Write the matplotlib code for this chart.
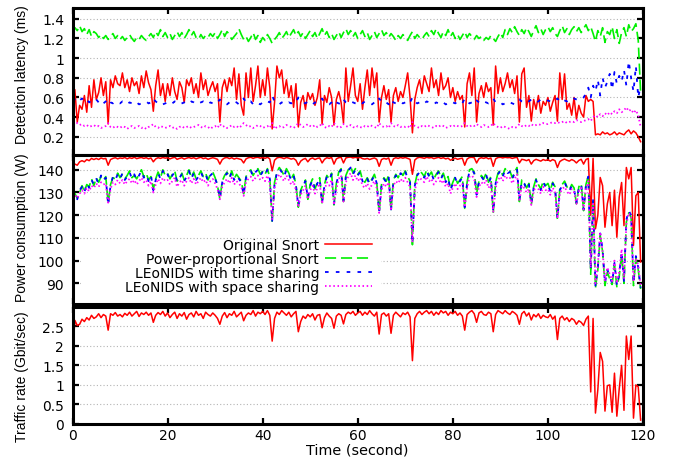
import numpy as np
import matplotlib
matplotlib.use("Agg")
import matplotlib.pyplot as plt
from matplotlib.patches import Rectangle

plt.rcParams['font.family'] = ['DejaVu Sans']
plt.rcParams['font.size'] = 10
plt.rcParams['lines.scale_dashes'] = False

# rotated axis titles use a narrower face than the horizontal texts
LABEL_FONT = dict(family=['Liberation Sans', 'DejaVu Sans'], size=10)
WIDE_SIZE = 10.4

# sample times (seconds), one sample every half second
time_s = np.arange(0, 120, 0.5)

# ---- detection latency (ms) ----
lat_original = [
    0.55, 0.68, 0.35, 0.52, 0.48, 0.62, 0.45, 0.72, 0.50, 0.78, 0.58, 0.65, 0.80, 0.62, 0.76, 0.33, 0.78, 0.70, 0.82, 0.74,
    0.72, 0.85, 0.70, 0.78, 0.66, 0.80, 0.72, 0.76, 0.64, 0.82, 0.70, 0.87, 0.75, 0.68, 0.46, 0.72, 0.88, 0.62, 0.74, 0.56,
    0.74, 0.62, 0.80, 0.66, 0.58, 0.76, 0.70, 0.55, 0.78, 0.72, 0.80, 0.64, 0.74, 0.60, 0.85, 0.68, 0.78, 0.62, 0.70, 0.76,
    0.66, 0.74, 0.35, 0.70, 0.78, 0.66, 0.80, 0.72, 0.90, 0.58, 0.84, 0.52, 0.42, 0.85, 0.60, 0.90, 0.56, 0.72, 0.92, 0.60,
    0.78, 0.62, 0.90, 0.70, 0.28, 0.55, 0.92, 0.80, 0.88, 0.64, 0.78, 0.60, 0.72, 0.50, 0.74, 0.30, 0.55, 0.62, 0.48, 0.65,
    0.58, 0.64, 0.52, 0.60, 0.78, 0.33, 0.62, 0.55, 0.70, 0.60, 0.32, 0.58, 0.66, 0.55, 0.34, 0.90, 0.56, 0.72, 0.90, 0.62,
    0.56, 0.74, 0.48, 0.70, 0.88, 0.62, 0.90, 0.70, 0.85, 0.35, 0.60, 0.72, 0.58, 0.68, 0.35, 0.62, 0.70, 0.56, 0.66, 0.60,
    0.72, 0.85, 0.60, 0.24, 0.58, 0.70, 0.78, 0.64, 0.82, 0.74, 0.66, 0.90, 0.70, 0.78, 0.62, 0.85, 0.68, 0.72, 0.80, 0.60,
    0.70, 0.56, 0.66, 0.58, 0.62, 0.30, 0.74, 0.85, 0.62, 0.90, 0.35, 0.64, 0.72, 0.60, 0.75, 0.66, 0.70, 0.32, 0.92, 0.64,
    0.80, 0.66, 0.74, 0.85, 0.70, 0.78, 0.64, 0.82, 0.35, 0.84, 0.90, 0.50, 0.62, 0.36, 0.58, 0.48, 0.62, 0.44, 0.56, 0.52,
    0.60, 0.46, 0.55, 0.62, 0.36, 0.85, 0.58, 0.84, 0.48, 0.54, 0.42, 0.60, 0.38, 0.52, 0.44, 0.40, 0.62, 0.56, 0.58, 0.56,
    0.22, 0.23, 0.22, 0.25, 0.23, 0.24, 0.22, 0.23, 0.25, 0.22, 0.24, 0.23, 0.22, 0.25, 0.27, 0.23, 0.26, 0.24, 0.20, 0.15,
]
lat_powerprop = [
    1.26, 1.31, 1.28, 1.33, 1.27, 1.30, 1.24, 1.29, 1.22, 1.27, 1.25, 1.21, 1.24, 1.20, 1.23, 1.19, 1.22, 1.25, 1.20, 1.23,
    1.19, 1.22, 1.18, 1.21, 1.24, 1.20, 1.17, 1.21, 1.19, 1.23, 1.20, 1.18, 1.22, 1.25, 1.21, 1.27, 1.23, 1.29, 1.22, 1.26,
    1.21, 1.25, 1.19, 1.23, 1.27, 1.22, 1.26, 1.20, 1.24, 1.29, 1.23, 1.27, 1.21, 1.19, 1.24, 1.20, 1.23, 1.21, 1.25, 1.22,
    1.26, 1.20, 1.24, 1.29, 1.22, 1.27, 1.24, 1.19, 1.22, 1.25, 1.30, 1.24, 1.19, 1.22, 1.17, 1.21, 1.26, 1.19, 1.23, 1.16,
    1.21, 1.18, 1.24, 1.20, 1.15, 1.19, 1.22, 1.26, 1.20, 1.23, 1.27, 1.21, 1.25, 1.29, 1.23, 1.27, 1.22, 1.26, 1.20, 1.24,
    1.28, 1.22, 1.26, 1.20, 1.25, 1.30, 1.23, 1.27, 1.21, 1.25, 1.19, 1.23, 1.27, 1.21, 1.26, 1.30, 1.24, 1.28, 1.22, 1.26,
    1.20, 1.24, 1.28, 1.22, 1.26, 1.19, 1.23, 1.27, 1.21, 1.25, 1.29, 1.23, 1.26, 1.21, 1.25, 1.22, 1.18, 1.23, 1.20, 1.24,
    1.21, 1.18, 1.23, 1.27, 1.20, 1.24, 1.21, 1.19, 1.23, 1.26, 1.22, 1.28, 1.24, 1.30, 1.25, 1.21, 1.27, 1.23, 1.29, 1.22,
    1.26, 1.20, 1.24, 1.19, 1.23, 1.27, 1.21, 1.25, 1.22, 1.19, 1.23, 1.20, 1.22, 1.18, 1.21, 1.19, 1.23, 1.20, 1.17, 1.22,
    1.26, 1.21, 1.29, 1.24, 1.30, 1.26, 1.32, 1.27, 1.23, 1.29, 1.25, 1.31, 1.27, 1.22, 1.28, 1.33, 1.26, 1.30, 1.24, 1.29,
    1.32, 1.27, 1.31, 1.25, 1.22, 1.28, 1.33, 1.26, 1.30, 1.24, 1.29, 1.32, 1.27, 1.31, 1.26, 1.30, 1.34, 1.28, 1.32, 1.25,
    1.17, 1.28, 1.22, 1.31, 1.16, 1.27, 1.24, 1.32, 1.20, 1.29, 1.15, 1.26, 1.31, 1.22, 1.34, 1.27, 1.30, 1.35, 1.18, 0.65,
]
lat_time_sharing = [
    0.60, 0.58, 0.60, 0.57, 0.59, 0.56, 0.58, 0.55, 0.57, 0.56, 0.58, 0.55, 0.57, 0.54, 0.56, 0.59, 0.55, 0.54, 0.56, 0.55,
    0.54, 0.56, 0.55, 0.53, 0.55, 0.54, 0.56, 0.55, 0.53, 0.54, 0.55, 0.56, 0.54, 0.55, 0.59, 0.56, 0.54, 0.55, 0.53, 0.54,
    0.55, 0.53, 0.54, 0.56, 0.55, 0.53, 0.54, 0.55, 0.53, 0.54, 0.56, 0.55, 0.53, 0.54, 0.55, 0.56, 0.54, 0.53, 0.55, 0.54,
    0.53, 0.55, 0.58, 0.55, 0.54, 0.53, 0.55, 0.54, 0.56, 0.55, 0.53, 0.56, 0.59, 0.55, 0.54, 0.56, 0.53, 0.55, 0.54, 0.53,
    0.55, 0.54, 0.56, 0.55, 0.62, 0.56, 0.54, 0.53, 0.55, 0.54, 0.53, 0.55, 0.54, 0.56, 0.55, 0.60, 0.57, 0.55, 0.54, 0.56,
    0.55, 0.53, 0.55, 0.54, 0.56, 0.59, 0.55, 0.54, 0.53, 0.55, 0.58, 0.55, 0.54, 0.53, 0.58, 0.55, 0.54, 0.56, 0.55, 0.54,
    0.53, 0.55, 0.54, 0.56, 0.55, 0.54, 0.53, 0.55, 0.54, 0.59, 0.56, 0.54, 0.55, 0.53, 0.58, 0.55, 0.54, 0.56, 0.55, 0.54,
    0.55, 0.53, 0.55, 0.60, 0.56, 0.54, 0.55, 0.53, 0.54, 0.56, 0.55, 0.54, 0.53, 0.55, 0.54, 0.56, 0.55, 0.53, 0.54, 0.56,
    0.55, 0.54, 0.56, 0.55, 0.54, 0.59, 0.56, 0.54, 0.55, 0.53, 0.57, 0.55, 0.54, 0.56, 0.55, 0.54, 0.56, 0.59, 0.55, 0.54,
    0.55, 0.53, 0.54, 0.56, 0.55, 0.54, 0.53, 0.55, 0.58, 0.56, 0.55, 0.57, 0.56, 0.58, 0.57, 0.55, 0.56, 0.58, 0.57, 0.56,
    0.57, 0.56, 0.58, 0.57, 0.59, 0.56, 0.58, 0.57, 0.56, 0.58, 0.57, 0.59, 0.58, 0.57, 0.58, 0.60, 0.64, 0.70, 0.60, 0.72,
    0.66, 0.78, 0.62, 0.80, 0.70, 0.76, 0.84, 0.68, 0.86, 0.74, 0.82, 0.76, 0.88, 0.72, 0.97, 0.80, 0.66, 0.92, 0.60, 0.72,
]
lat_space_sharing = [
    0.34, 0.33, 0.34, 0.32, 0.33, 0.31, 0.32, 0.30, 0.31, 0.32, 0.30, 0.31, 0.29, 0.30, 0.31, 0.34, 0.30, 0.29, 0.31, 0.30,
    0.29, 0.31, 0.30, 0.28, 0.30, 0.31, 0.29, 0.30, 0.31, 0.29, 0.30, 0.28, 0.30, 0.31, 0.33, 0.30, 0.29, 0.31, 0.30, 0.29,
    0.30, 0.31, 0.29, 0.30, 0.28, 0.30, 0.31, 0.29, 0.30, 0.31, 0.29, 0.30, 0.31, 0.32, 0.30, 0.29, 0.31, 0.30, 0.28, 0.30,
    0.31, 0.29, 0.33, 0.30, 0.31, 0.29, 0.30, 0.32, 0.30, 0.31, 0.29, 0.31, 0.34, 0.32, 0.30, 0.31, 0.29, 0.30, 0.32, 0.31,
    0.29, 0.30, 0.31, 0.29, 0.34, 0.28, 0.30, 0.31, 0.29, 0.30, 0.32, 0.31, 0.30, 0.29, 0.31, 0.34, 0.32, 0.30, 0.31, 0.33,
    0.31, 0.30, 0.32, 0.30, 0.31, 0.34, 0.30, 0.29, 0.31, 0.30, 0.34, 0.31, 0.29, 0.30, 0.33, 0.31, 0.30, 0.32, 0.30, 0.29,
    0.31, 0.30, 0.29, 0.31, 0.30, 0.32, 0.31, 0.30, 0.29, 0.34, 0.31, 0.30, 0.31, 0.29, 0.34, 0.31, 0.30, 0.32, 0.30, 0.31,
    0.30, 0.31, 0.29, 0.35, 0.31, 0.30, 0.29, 0.31, 0.30, 0.32, 0.31, 0.30, 0.29, 0.31, 0.30, 0.32, 0.31, 0.29, 0.30, 0.31,
    0.30, 0.32, 0.31, 0.30, 0.31, 0.34, 0.31, 0.30, 0.32, 0.31, 0.33, 0.31, 0.30, 0.32, 0.31, 0.30, 0.31, 0.34, 0.31, 0.30,
    0.29, 0.31, 0.30, 0.29, 0.28, 0.30, 0.29, 0.30, 0.33, 0.31, 0.30, 0.32, 0.31, 0.33, 0.31, 0.32, 0.33, 0.32, 0.34, 0.33,
    0.33, 0.34, 0.35, 0.34, 0.35, 0.34, 0.35, 0.36, 0.34, 0.35, 0.36, 0.35, 0.37, 0.36, 0.35, 0.36, 0.37, 0.38, 0.36, 0.40,
    0.42, 0.40, 0.43, 0.41, 0.44, 0.42, 0.45, 0.43, 0.46, 0.44, 0.48, 0.45, 0.47, 0.50, 0.46, 0.48, 0.44, 0.47, 0.42, 0.30,
]

# ---- power consumption (W) ----
pow_original = [
    143.0, 142.5, 142.0, 143.5, 144.0, 143.5, 144.5, 144.0, 145.0, 144.5, 145.0, 144.5, 145.2, 144.8, 145.0, 142.0, 144.5, 145.0, 145.3, 144.8,
    145.2, 145.0, 145.4, 144.8, 145.3, 145.0, 145.5, 144.9, 145.2, 145.4, 145.0, 145.3, 144.8, 145.2, 143.5, 144.8, 145.3, 145.0, 145.4, 145.1,
    145.3, 144.8, 145.2, 145.5, 144.6, 145.0, 145.3, 144.7, 145.1, 145.4, 145.0, 145.3, 144.8, 145.2, 145.5, 144.9, 145.2, 144.6, 145.0, 145.3,
    145.0, 144.6, 142.5, 144.5, 145.2, 145.4, 144.9, 145.3, 144.7, 145.1, 144.8, 144.5, 143.0, 144.8, 145.3, 145.5, 145.0, 145.4, 145.5, 145.1,
    145.4, 145.0, 145.5, 144.8, 139.5, 144.2, 145.2, 145.5, 145.3, 144.9, 145.4, 145.1, 144.7, 145.0, 144.2, 142.0, 143.8, 144.6, 145.0, 143.5,
    144.8, 145.2, 144.5, 145.0, 145.2, 143.0, 144.6, 145.3, 145.0, 145.4, 142.5, 144.8, 145.3, 145.5, 143.0, 145.2, 145.5, 145.6, 145.2, 145.5,
    145.2, 145.5, 144.9, 144.7, 145.0, 144.5, 144.9, 145.2, 144.6, 141.5, 144.5, 145.0, 144.7, 145.2, 142.0, 144.8, 145.3, 145.0, 145.4, 145.1,
    145.4, 145.0, 144.6, 138.0, 144.3, 145.2, 145.5, 145.3, 145.0, 145.5, 145.2, 145.4, 144.9, 145.2, 145.5, 145.0, 145.3, 144.8, 145.1, 144.2,
    144.7, 145.1, 144.6, 144.9, 145.1, 142.0, 144.7, 145.4, 145.5, 145.3, 143.0, 144.9, 145.3, 145.0, 145.4, 144.8, 145.2, 141.5, 144.8, 145.4,
    145.5, 145.2, 145.5, 145.3, 145.4, 145.0, 145.3, 145.5, 143.0, 144.6, 144.4, 144.0, 144.5, 142.5, 144.0, 144.6, 144.2, 143.8, 144.5, 144.1,
    144.4, 143.8, 144.5, 144.0, 141.0, 143.6, 144.3, 144.7, 144.2, 143.8, 144.5, 144.0, 143.0, 144.1, 144.6, 142.5, 144.5, 145.0, 120.0, 145.0,
    114.0, 120.0, 136.6, 133.0, 114.7, 125.0, 130.0, 115.4, 131.0, 110.3, 128.0, 134.4, 115.4, 141.0, 136.0, 141.0, 106.7, 128.6, 130.0, 99.4,
]
pow_powerprop = [
    131.0, 129.5, 127.5, 130.0, 133.0, 130.5, 133.5, 132.5, 136.0, 133.0, 136.5, 134.5, 137.0, 135.5, 137.0, 125.0, 133.5, 136.5, 136.0, 138.5,
    136.5, 138.0, 136.0, 137.5, 139.5, 136.5, 137.5, 136.0, 138.0, 140.0, 137.0, 138.5, 135.5, 137.0, 131.5, 136.0, 139.0, 136.5, 140.0, 137.5,
    138.5, 136.0, 138.0, 139.5, 135.0, 136.0, 138.5, 135.5, 137.5, 140.0, 136.5, 139.0, 136.0, 137.5, 139.5, 137.0, 138.5, 135.5, 138.0, 139.0,
    136.5, 133.0, 127.0, 135.0, 137.5, 139.0, 136.5, 139.5, 136.0, 138.0, 136.5, 135.0, 129.5, 137.0, 139.0, 140.0, 137.5, 139.5, 140.5, 138.0,
    139.5, 138.0, 140.5, 136.5, 117.0, 134.5, 139.0, 141.0, 139.5, 137.5, 140.5, 138.5, 136.0, 138.0, 133.5, 123.5, 131.0, 133.5, 135.5, 127.0,
    133.5, 136.0, 131.5, 134.5, 136.5, 125.0, 133.5, 137.5, 136.0, 138.5, 124.5, 134.0, 139.0, 140.5, 126.0, 137.5, 140.0, 141.5, 138.5, 140.5,
    138.0, 139.5, 135.5, 134.5, 136.5, 134.0, 136.0, 138.0, 134.5, 121.0, 133.5, 136.5, 135.0, 137.5, 122.0, 135.5, 138.0, 136.5, 139.0, 137.5,
    139.5, 137.0, 135.0, 107.0, 133.5, 138.0, 139.5, 138.5, 137.0, 140.0, 137.5, 139.0, 136.0, 138.0, 139.5, 136.5, 138.5, 135.0, 137.0, 131.5,
    134.5, 137.0, 134.0, 135.5, 137.0, 123.0, 134.5, 140.0, 140.5, 139.0, 129.5, 135.0, 137.5, 136.0, 138.5, 134.5, 137.0, 121.0, 134.5, 138.5,
    140.0, 137.5, 140.5, 139.0, 139.5, 136.5, 139.0, 141.0, 126.0, 135.5, 134.5, 132.0, 134.0, 124.5, 132.5, 136.0, 133.5, 131.5, 135.0, 133.0,
    134.0, 131.0, 134.5, 132.5, 118.0, 131.5, 133.5, 135.0, 132.5, 131.0, 133.5, 132.0, 125.0, 132.5, 134.0, 122.0, 133.5, 137.5, 94.0, 126.0,
    88.0, 96.0, 111.0, 104.0, 89.0, 95.0, 92.0, 89.5, 98.0, 88.5, 93.0, 103.0, 90.0, 117.0, 121.0, 119.0, 89.0, 101.0, 96.0, 87.5,
]
pow_time_sharing = [
    131.5, 130.0, 127.0, 131.0, 132.5, 130.0, 134.0, 132.0, 135.5, 133.5, 136.0, 134.0, 137.5, 135.0, 136.5, 124.5, 133.0, 137.0, 135.5, 138.0,
    136.0, 138.5, 135.5, 137.0, 139.0, 136.0, 138.0, 135.5, 137.5, 139.5, 136.5, 138.0, 135.0, 137.5, 131.0, 135.5, 138.5, 136.0, 139.5, 137.0,
    138.0, 135.5, 137.5, 139.0, 134.5, 136.5, 138.0, 135.0, 137.0, 139.5, 136.0, 138.5, 135.5, 137.0, 139.0, 136.5, 138.0, 135.0, 137.5, 138.5,
    136.0, 133.5, 127.5, 134.5, 137.0, 138.5, 136.0, 139.0, 135.5, 137.5, 136.0, 134.5, 129.0, 136.5, 138.5, 139.5, 137.0, 139.0, 140.0, 137.5,
    139.0, 137.5, 140.0, 136.0, 117.5, 134.0, 138.5, 140.5, 139.0, 137.0, 140.0, 138.0, 135.5, 137.5, 133.0, 124.0, 130.5, 133.0, 135.0, 127.5,
    133.0, 135.5, 131.0, 134.0, 136.0, 125.5, 133.0, 137.0, 135.5, 138.0, 125.0, 133.5, 138.5, 140.0, 126.5, 137.0, 139.5, 141.0, 138.0, 140.0,
    137.5, 139.0, 135.0, 134.0, 136.0, 133.5, 135.5, 137.5, 134.0, 121.5, 133.0, 136.0, 134.5, 137.0, 122.5, 135.0, 137.5, 136.0, 138.5, 137.0,
    139.0, 136.5, 134.5, 107.5, 133.0, 137.5, 139.0, 138.0, 136.5, 139.5, 137.0, 138.5, 135.5, 137.5, 139.0, 136.0, 138.0, 134.5, 136.5, 131.0,
    134.0, 136.5, 133.5, 135.0, 136.5, 123.5, 134.0, 139.5, 140.0, 138.5, 129.0, 134.5, 137.0, 135.5, 138.0, 134.0, 136.5, 121.5, 134.0, 138.0,
    139.5, 137.0, 140.0, 138.5, 139.0, 136.0, 138.5, 140.5, 126.5, 135.0, 134.0, 131.5, 133.5, 125.0, 132.0, 135.5, 133.0, 131.0, 134.5, 132.5,
    133.5, 130.5, 134.0, 132.0, 118.5, 131.0, 133.0, 134.5, 132.0, 130.5, 133.0, 131.5, 125.5, 132.0, 133.5, 122.5, 133.0, 137.0, 96.0, 127.0,
    89.0, 97.0, 112.0, 105.0, 90.0, 96.0, 93.0, 90.0, 99.0, 89.0, 94.0, 104.0, 91.0, 118.0, 122.0, 120.0, 90.0, 102.0, 97.0, 88.0,
]
pow_space_sharing = [
    130.0, 129.0, 127.5, 129.5, 131.0, 129.5, 132.0, 130.5, 133.0, 132.0, 134.0, 132.5, 134.5, 133.5, 134.0, 125.5, 131.5, 134.5, 133.5, 135.5,
    134.0, 135.5, 133.5, 135.0, 136.0, 134.0, 135.5, 133.5, 135.0, 136.5, 134.5, 135.5, 133.0, 135.0, 130.0, 133.5, 136.0, 134.0, 136.5, 135.0,
    135.5, 133.5, 135.0, 136.5, 132.5, 134.5, 135.5, 133.0, 135.0, 136.5, 134.0, 136.0, 133.5, 135.0, 136.5, 134.5, 135.5, 133.0, 135.0, 136.0,
    134.0, 131.5, 127.0, 132.5, 134.5, 136.0, 134.0, 136.5, 133.5, 135.0, 134.0, 132.5, 128.5, 134.5, 136.0, 137.0, 135.0, 136.5, 137.5, 135.5,
    136.5, 135.0, 137.5, 134.0, 118.0, 132.0, 136.0, 138.0, 136.5, 135.0, 137.5, 135.5, 133.5, 135.0, 131.0, 123.5, 129.0, 131.0, 133.0, 127.0,
    131.0, 133.0, 129.5, 132.0, 134.0, 125.0, 131.0, 134.5, 133.0, 135.5, 124.5, 131.5, 136.0, 137.5, 126.0, 134.5, 137.0, 138.5, 135.5, 137.5,
    135.0, 136.5, 133.0, 132.0, 134.0, 131.5, 133.5, 135.0, 132.0, 121.0, 131.0, 134.0, 132.5, 134.5, 122.0, 133.0, 135.0, 134.0, 136.0, 134.5,
    136.5, 134.5, 132.5, 108.0, 131.0, 135.0, 136.5, 135.5, 134.5, 137.0, 135.0, 136.0, 133.5, 135.0, 136.5, 134.0, 135.5, 132.5, 134.0, 129.5,
    132.0, 134.0, 131.5, 133.0, 134.0, 123.5, 132.0, 137.0, 137.5, 136.0, 128.0, 132.5, 134.5, 133.5, 135.5, 132.0, 134.0, 121.5, 132.0, 135.5,
    137.0, 135.0, 137.5, 136.0, 136.5, 134.0, 136.0, 138.0, 126.0, 133.0, 132.0, 130.0, 131.5, 124.5, 130.5, 133.0, 131.5, 129.5, 132.5, 131.0,
    131.5, 129.0, 132.0, 130.5, 118.5, 129.5, 131.5, 132.5, 130.5, 129.0, 131.5, 130.0, 125.0, 130.5, 132.0, 122.5, 131.5, 135.0, 97.0, 125.0,
    90.0, 98.0, 112.5, 104.0, 91.0, 97.0, 94.0, 91.0, 100.0, 90.0, 95.0, 105.0, 92.0, 116.0, 121.0, 119.5, 91.0, 101.0, 98.0, 89.0,
]

# ---- offered traffic rate (Gbit/sec) ----
traffic_rate = [
    1.80, 2.65, 2.52, 2.55, 2.68, 2.62, 2.72, 2.66, 2.78, 2.70, 2.74, 2.82, 2.72, 2.80, 2.76, 2.40, 2.82, 2.78, 2.85, 2.76,
    2.80, 2.74, 2.83, 2.78, 2.86, 2.76, 2.82, 2.88, 2.75, 2.84, 2.80, 2.86, 2.78, 2.84, 2.60, 2.78, 2.85, 2.80, 2.88, 2.76,
    2.84, 2.72, 2.80, 2.86, 2.70, 2.82, 2.76, 2.85, 2.68, 2.80, 2.84, 2.74, 2.88, 2.78, 2.82, 2.70, 2.86, 2.80, 2.76, 2.84,
    2.78, 2.70, 2.55, 2.76, 2.85, 2.72, 2.82, 2.78, 2.88, 2.74, 2.80, 2.86, 2.64, 2.78, 2.84, 2.80, 2.90, 2.76, 2.86, 2.82,
    2.88, 2.80, 2.90, 2.78, 2.12, 2.70, 2.86, 2.80, 2.90, 2.84, 2.78, 2.86, 2.74, 2.82, 2.88, 2.36, 2.62, 2.76, 2.70, 2.80,
    2.74, 2.82, 2.66, 2.78, 2.80, 2.46, 2.72, 2.84, 2.76, 2.70, 2.45, 2.76, 2.82, 2.78, 2.56, 2.80, 2.86, 2.82, 2.88, 2.78,
    2.84, 2.88, 2.78, 2.86, 2.80, 2.90, 2.82, 2.76, 2.86, 2.30, 2.80, 2.84, 2.76, 2.82, 2.32, 2.78, 2.86, 2.80, 2.74, 2.84,
    2.80, 2.86, 2.74, 1.62, 2.70, 2.82, 2.88, 2.80, 2.86, 2.90, 2.82, 2.88, 2.78, 2.86, 2.80, 2.90, 2.84, 2.88, 2.78, 2.86,
    2.82, 2.88, 2.78, 2.84, 2.76, 2.40, 2.80, 2.86, 2.90, 2.82, 2.60, 2.84, 2.88, 2.80, 2.78, 2.86, 2.82, 2.36, 2.80, 2.90,
    2.86, 2.82, 2.90, 2.84, 2.80, 2.88, 2.84, 2.78, 2.55, 2.82, 2.88, 2.76, 2.84, 2.66, 2.80, 2.74, 2.82, 2.70, 2.78, 2.74,
    2.72, 2.80, 2.68, 2.76, 2.16, 2.70, 2.76, 2.66, 2.72, 2.62, 2.70, 2.66, 2.55, 2.64, 2.60, 2.52, 2.68, 2.76, 0.82, 2.70,
    0.28, 0.88, 1.83, 1.60, 0.33, 0.98, 1.00, 0.30, 1.30, 0.20, 0.90, 1.50, 0.35, 2.25, 1.65, 2.25, 0.15, 1.00, 0.95, 0.10,
]

series_labels = ["Original Snort", "Power-proportional Snort",
                 "LEoNIDS with time sharing", "LEoNIDS with space sharing"]

x_ticks = [0, 20, 40, 60, 80, 100, 120]
lat_ticks = [0.2, 0.4, 0.6, 0.8, 1.0, 1.2, 1.4]
lat_tick_labels = ["0.2", "0.4", "0.6", "0.8", "1", "1.2", "1.4"]
pow_ticks = [90, 100, 110, 120, 130, 140]
rate_ticks = [0, 0.5, 1.0, 1.5, 2.0, 2.5]
rate_tick_labels = ["0", "0.5", "1", "1.5", "2", "2.5"]

# line styles for the four configurations
styles = [
    dict(color="#ff0000", lw=1.1, ls="-"),
    dict(color="#00f000", lw=1.2, ls=(0, (8, 3.5))),
    dict(color="#0000ff", lw=1.3, ls=(0, (2.6, 5.2))),
    dict(color="#ff00ff", lw=1.3, ls=(0, (1.1, 1.9))),
]

W, H = 674, 460
fig = plt.figure(figsize=(W / 100, H / 100), dpi=100)


def px_box(x0, y0, x1, y1):
    return [x0 / W, 1 - y1 / H, (x1 - x0) / W, (y1 - y0) / H]


ax_lat = fig.add_axes(px_box(72.5, 9, 643, 156))
ax_pow = fig.add_axes(px_box(72.5, 156, 643, 305))
ax_rate = fig.add_axes(px_box(72.5, 307.7, 643, 425))

for ax in (ax_lat, ax_pow, ax_rate):
    ax.set_xlim(0, 120)
    ax.set_xticks(x_ticks)
    for sp in ax.spines.values():
        sp.set_linewidth(2.2)
    ax.tick_params(direction="in", length=4.5, width=1.6, top=True, right=True,
                   labelsize=10)
    ax.tick_params(axis="y", pad=6)
    ax.tick_params(axis="x", pad=3)
    ax.grid(axis="y", color="#b4b4b4", lw=0.8, ls=(0, (0.8, 1.6)))

# detection latency
for vals, st in zip([lat_original, lat_powerprop, lat_time_sharing, lat_space_sharing], styles):
    ax_lat.plot(time_s, vals, **st)
ax_lat.set_ylim(0.015, 1.51)
ax_lat.set_yticks(lat_ticks)
ax_lat.set_yticklabels(lat_tick_labels)
ax_lat.tick_params(axis="x", labelbottom=False)
ax_lat.set_ylabel("Detection latency (ms)", **LABEL_FONT)
ax_lat.yaxis.set_label_coords(-0.076, 0.551)

# power consumption
handles = []
for vals, st in zip([pow_original, pow_powerprop, pow_time_sharing, pow_space_sharing], styles):
    handles += ax_pow.plot(time_s, vals, **st)
ax_pow.set_ylim(80.9, 146.5)
ax_pow.set_yticks(pow_ticks)
ax_pow.tick_params(axis="x", labelbottom=False)
ax_pow.set_ylabel("Power consumption (W)", **LABEL_FONT)
ax_pow.yaxis.set_label_coords(-0.076, 0.517)
ax_pow.add_patch(Rectangle((0.015, 0.01), 0.526, 0.42, transform=ax_pow.transAxes,
                           facecolor="white", edgecolor="none", zorder=1.8))
ax_pow.legend(handles, series_labels, loc="upper right", bbox_to_anchor=(0.525, 0.446),
              frameon=False, markerfirst=False, handlelength=3.4, handletextpad=0.4,
              labelspacing=0.0, borderpad=0, borderaxespad=0, fontsize=10)

# traffic rate
ax_rate.plot(time_s, traffic_rate, **styles[0])
ax_rate.set_ylim(0, 3.0)
ax_rate.set_yticks(rate_ticks)
ax_rate.set_yticklabels(rate_tick_labels)
ax_rate.set_ylabel("Traffic rate (Gbit/sec)", **LABEL_FONT)
ax_rate.yaxis.set_label_coords(-0.076, 0.41)
ax_rate.set_xlabel("Time (second)", labelpad=0, fontsize=WIDE_SIZE)

fig.savefig("out.png", dpi=100)
